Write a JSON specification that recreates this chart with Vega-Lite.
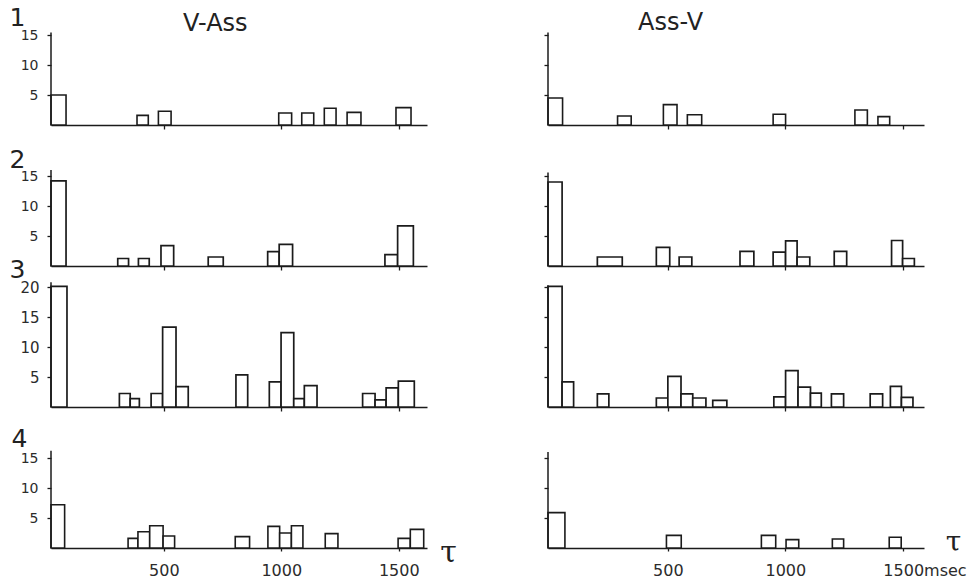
{
  "$schema": "https://vega.github.io/schema/vega-lite/v6.json",
  "background": "white",
  "padding": {"left": 9, "top": 5, "right": 5, "bottom": 3},
  "bounds": "flush",
  "columns": 2,
  "spacing": {"row": 15, "column": 121},
  "config": {
    "view": {"stroke": null},
    "axis": {"grid": false, "domainColor": "#1b1b1b", "tickColor": "#1b1b1b", "labelColor": "#2b2b2b", "titleColor": "#222222", "labelFont": "DejaVu Sans", "titleFont": "DejaVu Sans", "domainWidth": 1.5, "tickWidth": 1.3, "titleFontWeight": "normal"},
    "title": {"font": "DejaVu Sans", "fontWeight": "normal", "color": "#222222"}
  },
  "datasets": {
    "bins": [
      {"row": 1, "side": "L", "start": 20, "end": 84, "count": 5},
      {"row": 1, "side": "L", "start": 386, "end": 434, "count": 1.6},
      {"row": 1, "side": "L", "start": 477, "end": 531, "count": 2.3},
      {"row": 1, "side": "L", "start": 989, "end": 1044, "count": 2.0},
      {"row": 1, "side": "L", "start": 1087, "end": 1138, "count": 2.0},
      {"row": 1, "side": "L", "start": 1183, "end": 1233, "count": 2.8},
      {"row": 1, "side": "L", "start": 1280, "end": 1339, "count": 2.1},
      {"row": 1, "side": "L", "start": 1488, "end": 1552, "count": 2.9},

      {"row": 2, "side": "L", "start": 20, "end": 84, "count": 14.2},
      {"row": 2, "side": "L", "start": 304, "end": 350, "count": 1.25},
      {"row": 2, "side": "L", "start": 392, "end": 438, "count": 1.25},
      {"row": 2, "side": "L", "start": 488, "end": 542, "count": 3.4},
      {"row": 2, "side": "L", "start": 689, "end": 753, "count": 1.5},
      {"row": 2, "side": "L", "start": 942, "end": 991, "count": 2.4},
      {"row": 2, "side": "L", "start": 991, "end": 1048, "count": 3.6},
      {"row": 2, "side": "L", "start": 1441, "end": 1495, "count": 1.9},
      {"row": 2, "side": "L", "start": 1495, "end": 1562, "count": 6.7},

      {"row": 3, "side": "L", "start": 20, "end": 88, "count": 20.1},
      {"row": 3, "side": "L", "start": 311, "end": 357, "count": 2.25},
      {"row": 3, "side": "L", "start": 357, "end": 396, "count": 1.4},
      {"row": 3, "side": "L", "start": 446, "end": 495, "count": 2.25},
      {"row": 3, "side": "L", "start": 495, "end": 552, "count": 13.3},
      {"row": 3, "side": "L", "start": 552, "end": 604, "count": 3.4},
      {"row": 3, "side": "L", "start": 807, "end": 857, "count": 5.35},
      {"row": 3, "side": "L", "start": 949, "end": 999, "count": 4.2},
      {"row": 3, "side": "L", "start": 999, "end": 1053, "count": 12.4},
      {"row": 3, "side": "L", "start": 1053, "end": 1098, "count": 1.4},
      {"row": 3, "side": "L", "start": 1098, "end": 1152, "count": 3.55},
      {"row": 3, "side": "L", "start": 1346, "end": 1399, "count": 2.25},
      {"row": 3, "side": "L", "start": 1399, "end": 1446, "count": 1.2},
      {"row": 3, "side": "L", "start": 1446, "end": 1498, "count": 3.2},
      {"row": 3, "side": "L", "start": 1498, "end": 1566, "count": 4.3},

      {"row": 4, "side": "L", "start": 20, "end": 78, "count": 7.2},
      {"row": 4, "side": "L", "start": 348, "end": 390, "count": 1.6},
      {"row": 4, "side": "L", "start": 390, "end": 440, "count": 2.7},
      {"row": 4, "side": "L", "start": 440, "end": 497, "count": 3.7},
      {"row": 4, "side": "L", "start": 497, "end": 546, "count": 2.0},
      {"row": 4, "side": "L", "start": 804, "end": 865, "count": 1.9},
      {"row": 4, "side": "L", "start": 943, "end": 993, "count": 3.6},
      {"row": 4, "side": "L", "start": 993, "end": 1043, "count": 2.5},
      {"row": 4, "side": "L", "start": 1043, "end": 1092, "count": 3.7},
      {"row": 4, "side": "L", "start": 1187, "end": 1241, "count": 2.4},
      {"row": 4, "side": "L", "start": 1497, "end": 1549, "count": 1.6},
      {"row": 4, "side": "L", "start": 1549, "end": 1606, "count": 3.1},

      {"row": 1, "side": "R", "start": -10, "end": 52, "count": 4.5},
      {"row": 1, "side": "R", "start": 286, "end": 344, "count": 1.5},
      {"row": 1, "side": "R", "start": 481, "end": 539, "count": 3.4},
      {"row": 1, "side": "R", "start": 583, "end": 644, "count": 1.7},
      {"row": 1, "side": "R", "start": 948, "end": 1001, "count": 1.8},
      {"row": 1, "side": "R", "start": 1296, "end": 1349, "count": 2.5},
      {"row": 1, "side": "R", "start": 1394, "end": 1444, "count": 1.4},

      {"row": 2, "side": "R", "start": -10, "end": 50, "count": 14.0},
      {"row": 2, "side": "R", "start": 200, "end": 306, "count": 1.5},
      {"row": 2, "side": "R", "start": 451, "end": 508, "count": 3.1},
      {"row": 2, "side": "R", "start": 548, "end": 602, "count": 1.5},
      {"row": 2, "side": "R", "start": 807, "end": 866, "count": 2.45},
      {"row": 2, "side": "R", "start": 948, "end": 1001, "count": 2.3},
      {"row": 2, "side": "R", "start": 1001, "end": 1050, "count": 4.2},
      {"row": 2, "side": "R", "start": 1050, "end": 1104, "count": 1.5},
      {"row": 2, "side": "R", "start": 1208, "end": 1261, "count": 2.45},
      {"row": 2, "side": "R", "start": 1452, "end": 1499, "count": 4.25},
      {"row": 2, "side": "R", "start": 1499, "end": 1549, "count": 1.25},

      {"row": 3, "side": "R", "start": -10, "end": 50, "count": 20.1},
      {"row": 3, "side": "R", "start": 50, "end": 99, "count": 4.2},
      {"row": 3, "side": "R", "start": 200, "end": 249, "count": 2.2},
      {"row": 3, "side": "R", "start": 451, "end": 500, "count": 1.5},
      {"row": 3, "side": "R", "start": 500, "end": 556, "count": 5.1},
      {"row": 3, "side": "R", "start": 556, "end": 606, "count": 2.2},
      {"row": 3, "side": "R", "start": 606, "end": 662, "count": 1.5},
      {"row": 3, "side": "R", "start": 691, "end": 751, "count": 1.1},
      {"row": 3, "side": "R", "start": 951, "end": 1001, "count": 1.7},
      {"row": 3, "side": "R", "start": 1001, "end": 1054, "count": 6.05},
      {"row": 3, "side": "R", "start": 1054, "end": 1107, "count": 3.3},
      {"row": 3, "side": "R", "start": 1107, "end": 1153, "count": 2.3},
      {"row": 3, "side": "R", "start": 1196, "end": 1248, "count": 2.2},
      {"row": 3, "side": "R", "start": 1361, "end": 1414, "count": 2.2},
      {"row": 3, "side": "R", "start": 1447, "end": 1494, "count": 3.45},
      {"row": 3, "side": "R", "start": 1494, "end": 1543, "count": 1.6},

      {"row": 4, "side": "R", "start": -10, "end": 62, "count": 5.9},
      {"row": 4, "side": "R", "start": 494, "end": 557, "count": 2.1},
      {"row": 4, "side": "R", "start": 898, "end": 959, "count": 2.1},
      {"row": 4, "side": "R", "start": 1003, "end": 1057, "count": 1.4},
      {"row": 4, "side": "R", "start": 1200, "end": 1248, "count": 1.5},
      {"row": 4, "side": "R", "start": 1442, "end": 1493, "count": 1.8}
    ]
  },
  "concat": [
    {
      "width": 376, "height": 96,
      "title": {"text": "V-Ass", "anchor": "start", "frame": "group", "dx": 132, "dy": 52, "fontSize": 24, "baseline": "alphabetic", "offset": 2},
      "layer": [
        {"data": {"name": "bins"}, "transform": [{"filter": "datum.row == 1 && datum.side == 'L'"}],
         "mark": {"type": "rect", "fill": "white", "stroke": "#1b1b1b", "strokeWidth": 1.6},
         "encoding": {
           "x": {"field": "start", "type": "quantitative", "scale": {"domain": [20, 1620], "nice": false, "zero": false},
                 "axis": {"values": [500, 1000, 1500], "labels": false, "tickSize": 4, "title": null}},
           "x2": {"field": "end"},
           "y": {"field": "count", "type": "quantitative", "scale": {"domain": [0, 16], "nice": false},
                 "axis": {"values": [5, 10, 15], "domain": false, "tickSize": 4, "labelFontSize": 14, "labelPadding": 9,
                          "title": "1", "titleAngle": 0, "titleX": -42, "titleY": -4, "titleAlign": "left", "titleBaseline": "alphabetic", "titleFontSize": 25}},
           "y2": {"datum": 0}
         }},
        {"data": {"values": [{}]}, "mark": {"type": "rule", "stroke": "#1b1b1b", "strokeWidth": 1.5},
         "encoding": {"x": {"datum": 20, "type": "quantitative"}, "y": {"datum": 0, "type": "quantitative"}, "y2": {"datum": 15.4}}}
      ]
    },
    {
      "width": 376, "height": 96,
      "title": {"text": "Ass-V", "anchor": "start", "frame": "group", "dx": 90, "dy": 27, "fontSize": 24, "baseline": "alphabetic", "offset": 2},
      "layer": [
        {"data": {"name": "bins"}, "transform": [{"filter": "datum.row == 1 && datum.side == 'R'"}],
         "mark": {"type": "rect", "fill": "white", "stroke": "#1b1b1b", "strokeWidth": 1.6},
         "encoding": {
           "x": {"field": "start", "type": "quantitative", "scale": {"domain": [-10, 1590], "nice": false, "zero": false},
                 "axis": {"values": [500, 1000, 1500], "labels": false, "tickSize": 4, "title": null}},
           "x2": {"field": "end"},
           "y": {"field": "count", "type": "quantitative", "scale": {"domain": [0, 16], "nice": false},
                 "axis": {"values": [5, 10, 15], "domain": false, "tickSize": 4, "labels": false, "title": null}},
           "y2": {"datum": 0}
         }},
        {"data": {"values": [{}]}, "mark": {"type": "rule", "stroke": "#1b1b1b", "strokeWidth": 1.5},
         "encoding": {"x": {"datum": -10, "type": "quantitative"}, "y": {"datum": 0, "type": "quantitative"}, "y2": {"datum": 15.4}}}
      ]
    },
    {
      "width": 376, "height": 126,
      "layer": [
        {"data": {"name": "bins"}, "transform": [{"filter": "datum.row == 2 && datum.side == 'L'"}],
         "mark": {"type": "rect", "fill": "white", "stroke": "#1b1b1b", "strokeWidth": 1.7},
         "encoding": {
           "x": {"field": "start", "type": "quantitative", "scale": {"domain": [20, 1620], "nice": false, "zero": false},
                 "axis": {"values": [500, 1000, 1500], "labels": false, "tickSize": 4, "title": null}},
           "x2": {"field": "end"},
           "y": {"field": "count", "type": "quantitative", "scale": {"domain": [0, 21], "nice": false},
                 "axis": {"values": [5, 10, 15], "domain": false, "tickSize": 4, "labelFontSize": 14, "labelPadding": 9,
                          "title": "2", "titleAngle": 0, "titleX": -42, "titleY": 27, "titleAlign": "left", "titleBaseline": "alphabetic", "titleFontSize": 25}},
           "y2": {"datum": 0}
         }},
        {"data": {"values": [{}]}, "mark": {"type": "rule", "stroke": "#1b1b1b", "strokeWidth": 1.5},
         "encoding": {"x": {"datum": 20, "type": "quantitative"}, "y": {"datum": 0, "type": "quantitative"}, "y2": {"datum": 16}}}
      ]
    },
    {
      "width": 376, "height": 126,
      "layer": [
        {"data": {"name": "bins"}, "transform": [{"filter": "datum.row == 2 && datum.side == 'R'"}],
         "mark": {"type": "rect", "fill": "white", "stroke": "#1b1b1b", "strokeWidth": 1.7},
         "encoding": {
           "x": {"field": "start", "type": "quantitative", "scale": {"domain": [-10, 1590], "nice": false, "zero": false},
                 "axis": {"values": [500, 1000, 1500], "labels": false, "tickSize": 4, "title": null}},
           "x2": {"field": "end"},
           "y": {"field": "count", "type": "quantitative", "scale": {"domain": [0, 21], "nice": false},
                 "axis": {"values": [5, 10, 15], "domain": false, "tickSize": 4, "labels": false, "title": null}},
           "y2": {"datum": 0}
         }},
        {"data": {"values": [{}]}, "mark": {"type": "rule", "stroke": "#1b1b1b", "strokeWidth": 1.5},
         "encoding": {"x": {"datum": -10, "type": "quantitative"}, "y": {"datum": 0, "type": "quantitative"}, "y2": {"datum": 15.6}}}
      ]
    },
    {
      "width": 376, "height": 126,
      "layer": [
        {"data": {"name": "bins"}, "transform": [{"filter": "datum.row == 3 && datum.side == 'L'"}],
         "mark": {"type": "rect", "fill": "white", "stroke": "#1b1b1b", "strokeWidth": 1.7},
         "encoding": {
           "x": {"field": "start", "type": "quantitative", "scale": {"domain": [20, 1620], "nice": false, "zero": false},
                 "axis": {"values": [500, 1000, 1500], "labels": false, "tickSize": 4, "title": null}},
           "x2": {"field": "end"},
           "y": {"field": "count", "type": "quantitative", "scale": {"domain": [0, 21], "nice": false},
                 "axis": {"values": [5, 10, 15, 20], "domain": false, "tickSize": 4, "labelFontSize": 15, "labelPadding": 8,
                          "title": "3", "titleAngle": 0, "titleX": -42, "titleY": -4, "titleAlign": "left", "titleBaseline": "alphabetic", "titleFontSize": 25}},
           "y2": {"datum": 0}
         }},
        {"data": {"values": [{}]}, "mark": {"type": "rule", "stroke": "#1b1b1b", "strokeWidth": 1.5},
         "encoding": {"x": {"datum": 20, "type": "quantitative"}, "y": {"datum": 0, "type": "quantitative"}, "y2": {"datum": 20.8}}}
      ]
    },
    {
      "width": 376, "height": 126,
      "layer": [
        {"data": {"name": "bins"}, "transform": [{"filter": "datum.row == 3 && datum.side == 'R'"}],
         "mark": {"type": "rect", "fill": "white", "stroke": "#1b1b1b", "strokeWidth": 1.7},
         "encoding": {
           "x": {"field": "start", "type": "quantitative", "scale": {"domain": [-10, 1590], "nice": false, "zero": false},
                 "axis": {"values": [500, 1000, 1500], "labels": false, "tickSize": 4, "title": null}},
           "x2": {"field": "end"},
           "y": {"field": "count", "type": "quantitative", "scale": {"domain": [0, 21], "nice": false},
                 "axis": {"values": [5, 10, 15, 20], "domain": false, "tickSize": 4, "labels": false, "title": null}},
           "y2": {"datum": 0}
         }},
        {"data": {"values": [{}]}, "mark": {"type": "rule", "stroke": "#1b1b1b", "strokeWidth": 1.5},
         "encoding": {"x": {"datum": -10, "type": "quantitative"}, "y": {"datum": 0, "type": "quantitative"}, "y2": {"datum": 20.3}}}
      ]
    },
    {
      "width": 376, "height": 126,
      "layer": [
        {"data": {"name": "bins"}, "transform": [{"filter": "datum.row == 4 && datum.side == 'L'"}],
         "mark": {"type": "rect", "fill": "white", "stroke": "#1b1b1b", "strokeWidth": 1.6},
         "encoding": {
           "x": {"field": "start", "type": "quantitative", "scale": {"domain": [20, 1620], "nice": false, "zero": false},
                 "axis": {"values": [500, 1000, 1500], "format": "d", "labels": true, "tickSize": 3, "labelFontSize": 16, "labelPadding": 11, "labelOverlap": false, "labelBound": false,
                          "title": "τ", "titleFont": "DejaVu Serif", "titleFontSize": 30, "titleAngle": 0, "titleX": 397, "titleY": 13, "titleAlign": "center", "titleBaseline": "alphabetic"}},
           "x2": {"field": "end"},
           "y": {"field": "count", "type": "quantitative", "scale": {"domain": [0, 21], "nice": false},
                 "axis": {"values": [5, 10, 15], "domain": false, "tickSize": 4, "labelFontSize": 14, "labelPadding": 9,
                          "title": "4", "titleAngle": 0, "titleX": -40, "titleY": 24, "titleAlign": "left", "titleBaseline": "alphabetic", "titleFontSize": 25}},
           "y2": {"datum": 0}
         }},
        {"data": {"values": [{}]}, "mark": {"type": "rule", "stroke": "#1b1b1b", "strokeWidth": 1.5},
         "encoding": {"x": {"datum": 20, "type": "quantitative"}, "y": {"datum": 0, "type": "quantitative"}, "y2": {"datum": 16.2}}}
      ]
    },
    {
      "width": 376, "height": 126,
      "layer": [
        {"data": {"name": "bins"}, "transform": [{"filter": "datum.row == 4 && datum.side == 'R'"}],
         "mark": {"type": "rect", "fill": "white", "stroke": "#1b1b1b", "strokeWidth": 1.6},
         "encoding": {
           "x": {"field": "start", "type": "quantitative", "scale": {"domain": [-10, 1590], "nice": false, "zero": false},
                 "axis": {"values": [500, 1000, 1500], "format": "d", "labels": true, "tickSize": 3, "labelFontSize": 16, "labelPadding": 11, "labelOverlap": false, "labelBound": false,
                          "labelExpr": "datum.value == 1500 ? '1500msec' : datum.label",
                          "labelAlign": {"condition": {"test": "datum.value == 1500", "value": "left"}, "value": "center"},
                          "labelOffset": {"condition": {"test": "datum.value == 1500", "value": -20}, "value": 0},
                          "title": "τ", "titleFont": "DejaVu Serif", "titleFontSize": 28, "titleAngle": 0, "titleX": 405, "titleY": 2, "titleAlign": "center", "titleBaseline": "alphabetic"}},
           "x2": {"field": "end"},
           "y": {"field": "count", "type": "quantitative", "scale": {"domain": [0, 21], "nice": false},
                 "axis": {"values": [5, 10, 15], "domain": false, "tickSize": 4, "labels": false, "title": null}},
           "y2": {"datum": 0}
         }},
        {"data": {"values": [{}]}, "mark": {"type": "rule", "stroke": "#1b1b1b", "strokeWidth": 1.5},
         "encoding": {"x": {"datum": -10, "type": "quantitative"}, "y": {"datum": 0, "type": "quantitative"}, "y2": {"datum": 16}}}
      ]
    }
  ]
}
